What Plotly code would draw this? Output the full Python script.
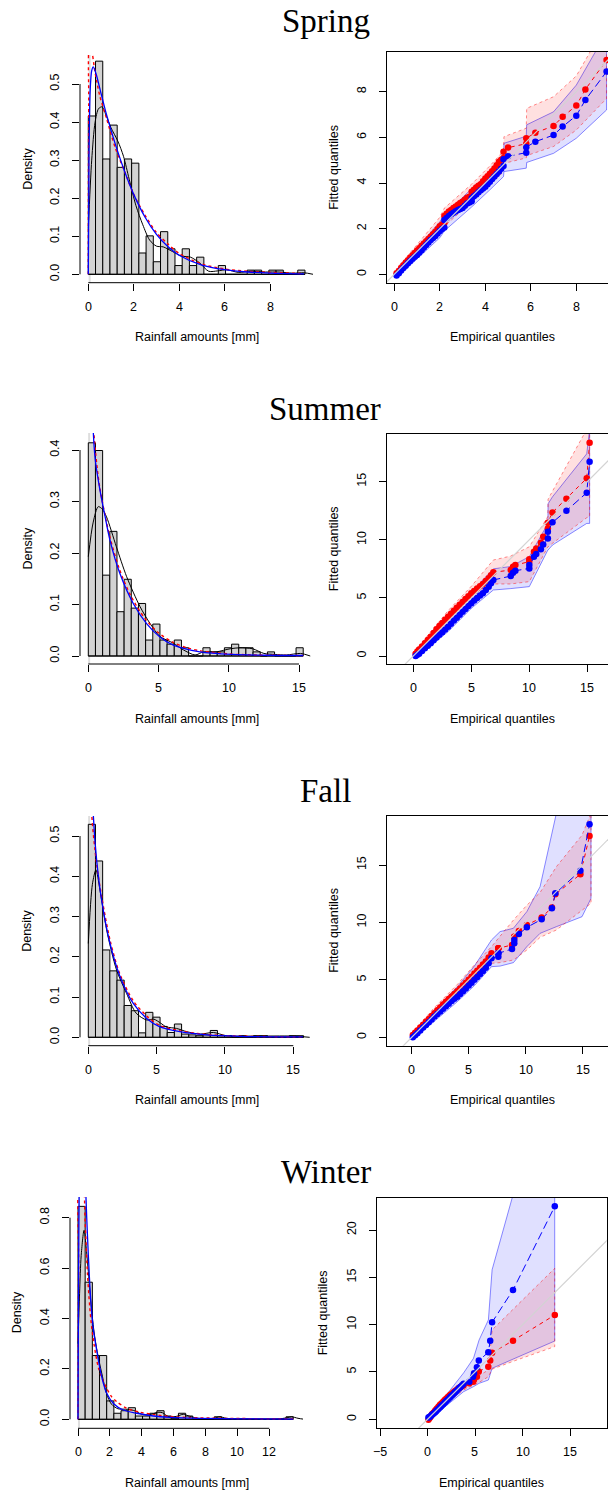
import plotly.graph_objects as go

W, H = 608, 1492

# ---------------- Histogram data (density per bin, bins start at 0) ----------------
spring_bin_width = 0.318
spring_density = [0.416, 0.560, 0.303, 0.392, 0.281, 0.303, 0.292, 0.056, 0.101, 0.033,
                  0.112, 0.067, 0.023, 0.067, 0.023, 0.045, 0.0, 0.0, 0.023, 0.0,
                  0.0, 0.0, 0.011, 0.011, 0.0, 0.011, 0.011, 0.0, 0.0, 0.011]
summer_bin_width = 0.51
summer_density = [0.414, 0.399, 0.157, 0.242, 0.086, 0.149, 0.093, 0.102, 0.031, 0.062,
                  0.031, 0.023, 0.031, 0.016, 0.0, 0.0, 0.016, 0.008, 0.008, 0.016,
                  0.023, 0.016, 0.016, 0.008, 0.0, 0.008, 0.0, 0.0, 0.0, 0.016]
fall_bin_width = 0.525
fall_density = [0.529, 0.438, 0.217, 0.165, 0.142, 0.079, 0.066, 0.011, 0.062, 0.050,
                0.027, 0.012, 0.033, 0.008, 0.006, 0.004, 0.006, 0.017, 0.004, 0.004,
                0.0, 0.004, 0.0, 0.004, 0.004, 0.0, 0.0, 0.0, 0.004, 0.004]
winter_bin_width = 0.45
winter_density = [0.845, 0.544, 0.253, 0.253, 0.073, 0.024, 0.034, 0.046, 0.013, 0.013,
                  0.024, 0.034, 0.013, 0.004, 0.024, 0.013, 0.0, 0.0, 0.0, 0.010,
                  0.0, 0.0, 0.0, 0.0, 0.0, 0.0, 0.0, 0.0, 0.0, 0.010]

# ---------------- Density curves ----------------
spring_kde_x = [0, 0.15, 0.3, 0.45, 0.6, 0.8, 1.0, 1.3, 1.55, 1.8, 2.1, 2.4, 2.7, 3.0, 3.3,
                3.7, 4.1, 4.5, 4.9, 5.3, 5.7, 6.1, 6.6, 7.2, 7.8, 8.4, 9.0, 9.5, 9.9]
spring_kde_y = [0.12, 0.3, 0.4, 0.435, 0.44, 0.415, 0.385, 0.35, 0.31, 0.25, 0.18, 0.13, 0.09,
                0.074, 0.072, 0.06, 0.048, 0.045, 0.03, 0.008, 0.009, 0.012, 0.005, 0.008,
                0.006, 0.006, 0.003, 0.004, 0.0]
spring_blue_x = [0, 0.03, 0.08, 0.15, 0.22, 0.35, 0.5, 0.8, 1.2, 1.6, 2.0, 2.5, 3.0, 3.5, 4.0,
                 5.0, 6.0, 7.0, 8.0, 9.5]
spring_blue_y = [0, 0.3, 0.48, 0.535, 0.545, 0.525, 0.49, 0.42, 0.34, 0.27, 0.21, 0.15, 0.105,
                 0.073, 0.05, 0.024, 0.012, 0.006, 0.003, 0.001]
spring_red_x = [0, 0.02, 0.05, 0.1, 0.3, 0.5, 0.8, 1.2, 1.6, 2.0, 2.5, 3.0, 3.5, 4.0, 5.0, 6.0,
                7.0, 8.0, 9.5]
spring_red_y = [0, 0.45, 0.6, 0.6, 0.53, 0.47, 0.41, 0.33, 0.27, 0.21, 0.155, 0.11, 0.08, 0.055,
                0.027, 0.014, 0.008, 0.005, 0.002]

summer_kde_x = [0, 0.35, 0.71, 1.0, 1.3, 2.0, 2.73, 3.68, 4.4, 5.1, 6.05, 6.76, 7.6, 8.2, 9.1,
                10.1, 10.8, 11.7, 12.5, 13.3, 14.1, 15.1, 15.8]
summer_kde_y = [0.193, 0.26, 0.29, 0.285, 0.27, 0.212, 0.154, 0.096, 0.063, 0.038, 0.025, 0.012,
                0.002, 0.008, 0.008, 0.014, 0.016, 0.014, 0.005, 0.003, 0.002, 0.005, 0.0]
summer_blue_x = [0.15, 0.25, 0.36, 0.5, 0.83, 1.2, 1.54, 2.25, 3.2, 4.15, 5.1, 6.05, 7.95, 10.3,
                 12.5, 15.3]
summer_blue_y = [0.7, 0.53, 0.432, 0.38, 0.322, 0.27, 0.225, 0.16, 0.102, 0.063, 0.037, 0.021,
                 0.008, 0.003, 0.0015, 0.001]
summer_red_x = [0.15, 0.24, 0.3, 0.5, 0.8, 1.5, 2.2, 3.0, 4.0, 5.0, 6.0, 7.0, 8.0, 10, 12, 15.3]
summer_red_y = [0.65, 0.5, 0.47, 0.4, 0.33, 0.235, 0.17, 0.118, 0.074, 0.045, 0.027, 0.016, 0.01,
                0.004, 0.002, 0.001]

fall_kde_x = [0, 0.3, 0.56, 0.85, 1.34, 2.07, 2.8, 3.5, 4.27, 4.8, 5.3, 5.7, 6.46, 7.2, 8.2,
              9.15, 10.1, 12.1, 15, 16.2]
fall_kde_y = [0.233, 0.38, 0.416, 0.366, 0.267, 0.167, 0.109, 0.06, 0.043, 0.045, 0.035, 0.026,
              0.022, 0.014, 0.008, 0.012, 0.004, 0.003, 0.003, 0.0]
fall_blue_x = [0.2, 0.3, 0.37, 0.61, 0.98, 1.59, 2.32, 3.29, 4.27, 5.24, 6.7, 8.66, 11.1, 15.7]
fall_blue_y = [0.9, 0.65, 0.55, 0.44, 0.34, 0.233, 0.151, 0.084, 0.047, 0.026, 0.014, 0.006,
               0.0025, 0.001]
fall_red_x = [0.15, 0.24, 0.61, 1.0, 1.6, 2.3, 3.3, 4.3, 5.2, 6.7, 8.7, 11, 15.7]
fall_red_y = [0.8, 0.56, 0.43, 0.345, 0.24, 0.158, 0.09, 0.052, 0.03, 0.016, 0.007, 0.003, 0.001]

winter_kde_x = [0, 0.1, 0.2, 0.38, 0.6, 0.8, 1.0, 1.2, 1.5, 1.8, 2.1, 2.5, 3.0, 3.5, 4.0, 4.5,
                5.0, 5.3, 5.7, 6.2, 6.6, 7.0, 7.5, 8.5, 8.9, 9.3, 10, 12.5, 13.1, 13.4, 13.8, 14.2]
winter_kde_y = [0.3, 0.5, 0.65, 0.75, 0.62, 0.47, 0.35, 0.27, 0.18, 0.1, 0.06, 0.042, 0.04,
                0.035, 0.02, 0.018, 0.028, 0.026, 0.01, 0.012, 0.02, 0.012, 0.004, 0.004, 0.01,
                0.004, 0.002, 0.001, 0.006, 0.01, 0.004, 0.0]
winter_blue_x = [0, 0.03, 0.08, 0.2, 0.35, 0.45, 0.5, 0.6, 0.71, 0.85, 1.0, 1.17, 1.38, 1.59,
                 1.8, 2.22, 2.84, 3.68, 4.72, 5.77, 7.65, 10, 13.5]
winter_blue_y = [0, 0.5, 0.95, 1.3, 1.3, 1.05, 0.88, 0.72, 0.57, 0.43, 0.34, 0.275, 0.2, 0.143,
                 0.103, 0.063, 0.037, 0.024, 0.013, 0.008, 0.004, 0.002, 0.001]
winter_red_x = [0, 0.04, 0.1, 0.25, 0.45, 0.6, 0.8, 1.0, 1.3, 1.6, 1.8, 2.1, 2.43, 3.05, 3.89,
                4.72, 5.77, 7, 9, 13.5]
winter_red_y = [0, 0.6, 1.0, 1.0, 0.78, 0.57, 0.4, 0.3, 0.2, 0.15, 0.123, 0.09, 0.07, 0.044,
                0.028, 0.019, 0.011, 0.007, 0.004, 0.0015]

# ---------------- QQ data ----------------
spring_emp = [0.1, 0.2, 0.3, 0.4, 0.5, 0.6, 0.7, 0.8, 0.9, 1.0, 1.1, 1.2, 1.3, 1.4, 1.5, 1.6,
              1.7, 1.8, 1.9, 2.0, 2.1, 2.2, 2.2, 2.3, 2.4, 2.5, 2.6, 2.7, 2.8, 2.9, 3.0, 3.1,
              3.2, 3.3, 3.4, 3.4, 3.5, 3.6, 3.7, 3.8, 3.9, 4.0, 4.1, 4.2, 4.3, 4.4, 4.5, 4.6,
              4.7, 4.8, 4.8, 5.0, 5.8, 5.8, 6.2, 7.0, 7.4, 8.0, 8.4, 9.33]
spring_fit_red = [0.05, 0.15, 0.28, 0.4, 0.51, 0.62, 0.72, 0.83, 0.93, 1.04, 1.14, 1.25, 1.35,
                  1.45, 1.55, 1.65, 1.75, 1.85, 1.97, 2.1, 2.18, 2.25, 2.55, 2.65, 2.75, 2.82,
                  2.9, 2.97, 3.05, 3.12, 3.18, 3.27, 3.35, 3.4, 3.45, 3.62, 3.7, 3.8, 3.88, 3.95,
                  4.08, 4.2, 4.3, 4.4, 4.52, 4.64, 4.78, 4.93, 5.02, 5.1, 5.37, 5.55, 5.72, 5.96,
                  6.2, 6.5, 6.9, 7.39, 8.1, 9.39]
spring_fit_blue = [-0.05, 0.05, 0.17, 0.28, 0.38, 0.48, 0.58, 0.68, 0.77, 0.85, 0.95, 1.05, 1.17,
                   1.28, 1.39, 1.5, 1.59, 1.68, 1.79, 1.9, 1.98, 2.05, 2.38, 2.47, 2.55, 2.63,
                   2.7, 2.76, 2.82, 2.86, 2.9, 3.0, 3.1, 3.15, 3.2, 3.33, 3.42, 3.5, 3.6, 3.68,
                   3.76, 3.84, 3.95, 4.05, 4.17, 4.28, 4.39, 4.5, 4.62, 4.75, 5.04, 5.17, 5.33,
                   5.57, 5.81, 6.1, 6.47, 6.95, 7.64, 8.88]
spring_band_x = [0.1, 1.0, 2.0, 2.2, 3.4, 4.2, 4.8, 4.82, 5.8, 5.82, 7.0, 8.0, 9.33]
spring_blue_lo = [-0.15, 0.7, 1.6, 1.9, 2.95, 3.7, 4.28, 4.5, 4.65, 4.9, 5.3, 5.96, 7.2]
spring_blue_hi = [0.15, 1.15, 2.3, 2.6, 3.75, 4.45, 5.0, 5.74, 6.05, 6.55, 7.12, 8.29, 10.6]
spring_red_lo = [-0.05, 0.85, 1.85, 2.1, 3.2, 3.9, 4.5, 4.86, 5.1, 5.2, 5.6, 6.32, 7.7]
spring_red_hi = [0.25, 1.3, 2.5, 2.9, 3.95, 4.75, 5.4, 6.03, 6.4, 7.27, 7.78, 8.69, 11.0]

summer_emp = [0.2, 0.35, 0.5, 0.75, 1.0, 1.25, 1.5, 1.75, 2.0, 2.25, 2.5, 2.75, 3.0, 3.25, 3.5,
              3.75, 4.0, 4.25, 4.5, 4.75, 5.0, 5.25, 5.5, 5.75, 6.0, 6.25, 6.5, 6.7, 6.9, 8.4,
              8.6, 8.8, 10.0, 10.0, 10.4, 10.6, 11.0, 11.2, 11.6, 11.6, 12.0, 13.2, 14.95, 15.2]
summer_fit_red = [0.2, 0.38, 0.55, 0.82, 1.09, 1.37, 1.65, 1.97, 2.3, 2.58, 2.85, 3.12, 3.38,
                  3.64, 3.9, 4.15, 4.4, 4.65, 4.9, 5.15, 5.39, 5.6, 5.8, 6.0, 6.19, 6.45, 6.7,
                  6.95, 7.2, 7.4, 7.69, 7.83, 8.12, 8.32, 8.98, 9.26, 9.75, 10.27, 10.98, 11.47,
                  12.36, 13.54, 15.29, 18.35]
summer_fit_blue = [0.0, 0.1, 0.2, 0.43, 0.66, 0.88, 1.1, 1.35, 1.6, 1.83, 2.05, 2.28, 2.52,
                   2.78, 3.05, 3.3, 3.55, 3.8, 4.05, 4.3, 4.53, 4.77, 5.0, 5.2, 5.39, 5.67, 5.95,
                   6.25, 6.54, 6.88, 7.17, 7.34, 7.54, 7.83, 8.55, 8.78, 9.18, 9.6, 10.12, 10.7,
                   11.5, 12.5, 14.05, 16.72]
summer_band_x = [0.2, 3.0, 5.0, 6.9, 8.4, 10.0, 11.6, 11.62, 12.0, 14.95, 15.2]
summer_blue_lo = [-0.2, 2.1, 4.1, 5.68, 5.8, 5.97, 9.12, 9.12, 9.55, 11.41, 11.41]
summer_blue_hi = [0.35, 3.3, 5.5, 7.5, 7.7, 8.55, 11.4, 13.1, 13.7, 17.4, 19.5]
summer_red_lo = [0.0, 2.5, 4.4, 6.2, 6.2, 6.4, 9.4, 9.4, 9.7, 11.9, 12.0]
summer_red_hi = [0.5, 3.9, 6.0, 8.26, 8.6, 9.4, 12.0, 13.5, 14.28, 19.5, 19.5]

fall_emp = [0.1, 0.3, 0.5, 0.75, 1.0, 1.25, 1.5, 1.75, 2.0, 2.25, 2.5, 2.75, 3.0, 3.25, 3.5,
            3.75, 4.0, 4.25, 4.5, 4.75, 5.0, 5.25, 5.5, 5.75, 6.0, 6.25, 6.5, 6.75, 7.0, 7.6,
            7.6, 7.6, 8.8, 9.0, 9.0, 9.4, 10.1, 11.4, 12.3, 12.6, 14.8, 15.6]
fall_fit_red = [0.2, 0.4, 0.6, 0.85, 1.1, 1.35, 1.6, 1.85, 2.1, 2.35, 2.6, 2.85, 3.1, 3.33,
                3.55, 3.78, 4.0, 4.25, 4.5, 4.75, 5.0, 5.28, 5.55, 5.8, 6.05, 6.33, 6.6, 6.95,
                7.31, 7.75, 7.75, 7.75, 8.04, 8.76, 8.76, 9.25, 9.78, 10.42, 11.31, 12.45, 14.19,
                17.52]
fall_fit_blue = [0.0, 0.17, 0.35, 0.6, 0.85, 1.08, 1.3, 1.55, 1.8, 2.03, 2.25, 2.48, 2.7, 2.93,
                 3.15, 3.35, 3.54, 3.77, 4.0, 4.25, 4.5, 4.75, 5.0, 5.25, 5.5, 5.78, 6.05, 6.45,
                 6.88, 7.02, 7.31, 7.31, 7.69, 8.18, 8.47, 8.99, 9.57, 10.27, 11.23, 12.53, 14.5,
                 18.54]
fall_band_x = [0.1, 2.0, 4.0, 5.5, 7.0, 7.75, 8.92, 10.1, 11.26, 12.69, 14.94, 15.73]
fall_blue_lo = [-0.2, 1.4, 3.1, 4.5, 6.15, 6.2, 6.5, 7.89, 9.05, 9.63, 10.5, 12.1]
fall_blue_hi = [0.35, 2.4, 4.4, 6.2, 8.47, 9.2, 9.49, 10.94, 13.11, 19.5, 19.5, 19.5]
fall_red_lo = [0.0, 1.7, 3.5, 5.0, 6.44, 6.5, 6.73, 7.6, 8.7, 9.34, 11.08, 11.66]
fall_red_hi = [0.45, 2.6, 4.6, 6.3, 7.89, 8.8, 10.2, 11.5, 12.6, 14.85, 17.6, 19.5]

winter_emp = [0.1, 0.2, 0.3, 0.4, 0.5, 0.65, 0.8, 0.9, 1.0, 1.15, 1.3, 1.4, 1.5, 1.65, 1.8, 1.9,
              2.0, 2.15, 2.3, 2.4, 2.5, 2.65, 2.8, 2.9, 3.0, 3.15, 3.3, 3.4, 3.5, 3.65, 3.8,
              4.4, 4.8, 4.9, 5.2, 5.4, 6.4, 6.6, 6.8, 9.0, 13.4]
winter_fit_red = [-0.05, 0.1, 0.25, 0.4, 0.55, 0.72, 0.9, 1.02, 1.15, 1.33, 1.5, 1.6, 1.7, 1.85,
                  2.0, 2.1, 2.2, 2.35, 2.5, 2.57, 2.65, 2.78, 2.9, 2.97, 3.05, 3.18, 3.3, 3.37,
                  3.45, 3.52, 3.6, 3.8, 3.98, 4.2, 4.5, 5.04, 5.56, 6.2, 7.04, 8.31, 11.02]
winter_fit_blue = [0.2, 0.25, 0.3, 0.4, 0.5, 0.62, 0.75, 0.85, 0.95, 1.1, 1.25, 1.35, 1.45, 1.6,
                   1.75, 1.85, 1.95, 2.1, 2.25, 2.35, 2.45, 2.6, 2.75, 2.85, 2.95, 3.1, 3.25,
                   3.35, 3.45, 3.6, 3.75, 3.98, 4.5, 4.86, 5.49, 6.2, 7.08, 8.31, 10.25, 13.66,
                   22.5]
winter_band_x = [0.1, 2.0, 3.8, 4.84, 5.43, 6.41, 6.8, 9.22, 13.39]
winter_blue_lo = [-0.1, 1.4, 2.92, 3.45, 3.8, 4.15, 5.39, 6.45, 8.27]
winter_blue_hi = [0.5, 2.6, 4.9, 6.44, 8.38, 10.5, 15.8, 24.5, 24.5]
winter_red_lo = [-0.3, 1.7, 3.1, 3.6, 3.9, 4.5, 5.3, 6.2, 7.68]
winter_red_hi = [0.4, 2.6, 3.9, 4.3, 4.6, 5.2, 9.44, 11.8, 15.95]

# ---------------- tick labels ----------------
spring_hist_xt = [0, 2, 4, 6, 8]
spring_hist_yt = [0.0, 0.1, 0.2, 0.3, 0.4, 0.5]
spring_qq_xt = [0, 2, 4, 6, 8]
spring_qq_yt = [0, 2, 4, 6, 8]
summer_hist_xt = [0, 5, 10, 15]
summer_hist_yt = [0.0, 0.1, 0.2, 0.3, 0.4]
summer_qq_xt = [0, 5, 10, 15]
summer_qq_yt = [0, 5, 10, 15]
fall_hist_xt = [0, 5, 10, 15]
fall_hist_yt = [0.0, 0.1, 0.2, 0.3, 0.4, 0.5]
fall_qq_xt = [0, 5, 10, 15]
fall_qq_yt = [0, 5, 10, 15]
winter_hist_xt = [0, 2, 4, 6, 8, 10, 12]
winter_hist_yt = [0.0, 0.2, 0.4, 0.6, 0.8]
winter_qq_xt = [-5, 0, 5, 10, 15]
winter_qq_yt = [0, 5, 10, 15, 20]

# ---------------- layout geometry (pixels) ----------------
panels = [
    dict(title="Spring", tpos=(326, 21.5),
         hist=dict(w=spring_bin_width, dens=spring_density,
                   kde=(spring_kde_x, spring_kde_y), blue=(spring_blue_x, spring_blue_y),
                   red=(spring_red_x, spring_red_y), xt=spring_hist_xt, yt=spring_hist_yt,
                   px=(80, 313), py=(55, 282.7), xm=(0, 88.3, 8, 270), ym=(0, 274.3, 0.5, 84),
                   ylab=28, xlab=(196.5, 337)),
         qq=dict(emp=spring_emp, red=spring_fit_red, blue=spring_fit_blue, bx=spring_band_x,
                 blo=spring_blue_lo, bhi=spring_blue_hi, rlo=spring_red_lo, rhi=spring_red_hi,
                 xt=spring_qq_xt, yt=spring_qq_yt,
                 px=(387, 608), py=(52, 283), xm=(0, 394.3, 8, 576.3), ym=(0, 274.3, 8, 91.7),
                 ylab=333.3, xlab=(502.5, 337), mirror_y=False)),
    dict(title="Summer", tpos=(325, 408.5),
         hist=dict(w=summer_bin_width, dens=summer_density,
                   kde=(summer_kde_x, summer_kde_y), blue=(summer_blue_x, summer_blue_y),
                   red=(summer_red_x, summer_red_y), xt=summer_hist_xt, yt=summer_hist_yt,
                   px=(80, 313), py=(433, 664), xm=(0, 88.3, 15, 299), ym=(0, 656, 0.4, 450),
                   ylab=27, xlab=(196.5, 719)),
         qq=dict(emp=summer_emp, red=summer_fit_red, blue=summer_fit_blue, bx=summer_band_x,
                 blo=summer_blue_lo, bhi=summer_blue_hi, rlo=summer_red_lo, rhi=summer_red_hi,
                 xt=summer_qq_xt, yt=summer_qq_yt,
                 px=(387.3, 608), py=(434, 664.3), xm=(0, 413.3, 15, 587.3), ym=(0, 656, 15, 481.7),
                 ylab=334, xlab=(502.5, 719), mirror_y=False)),
    dict(title="Fall", tpos=(325, 791),
         hist=dict(w=fall_bin_width, dens=fall_density,
                   kde=(fall_kde_x, fall_kde_y), blue=(fall_blue_x, fall_blue_y),
                   red=(fall_red_x, fall_red_y), xt=fall_hist_xt, yt=fall_hist_yt,
                   px=(80, 313), py=(816, 1045.7), xm=(0, 88.3, 15, 293.3), ym=(0, 1037.3, 0.5, 836),
                   ylab=27, xlab=(196.5, 1100)),
         qq=dict(emp=fall_emp, red=fall_fit_red, blue=fall_fit_blue, bx=fall_band_x,
                 blo=fall_blue_lo, bhi=fall_blue_hi, rlo=fall_red_lo, rhi=fall_red_hi,
                 xt=fall_qq_xt, yt=fall_qq_yt,
                 px=(387.3, 608), py=(816, 1045.7), xm=(0, 411.7, 15, 582.7), ym=(0, 1037.3, 15, 865),
                 ylab=334, xlab=(502.5, 1100), mirror_y=False)),
    dict(title="Winter", tpos=(326, 1171.5),
         hist=dict(w=winter_bin_width, dens=winter_density,
                   kde=(winter_kde_x, winter_kde_y), blue=(winter_blue_x, winter_blue_y),
                   red=(winter_red_x, winter_red_y), xt=winter_hist_xt, yt=winter_hist_yt,
                   px=(70, 303), py=(1197, 1428.3), xm=(0, 78, 12, 269.3), ym=(0, 1419.3, 0.8, 1217.7),
                   ylab=16.7, xlab=(186.5, 1483)),
         qq=dict(emp=winter_emp, red=winter_fit_red, blue=winter_fit_blue, bx=winter_band_x,
                 blo=winter_blue_lo, bhi=winter_blue_hi, rlo=winter_red_lo, rhi=winter_red_hi,
                 xt=winter_qq_xt, yt=winter_qq_yt,
                 px=(376.7, 606.7), py=(1197.7, 1428.3), xm=(-5, 380, 15, 570), ym=(0, 1419.3, 20, 1230),
                 ylab=323.3, xlab=(491.7, 1483), mirror_y=True)),
]

SANS = "Liberation Sans, Arial, sans-serif"
SERIF = "Liberation Serif, Times New Roman, serif"
FS = 12.5
XLAB_OFFSET = 24  # px from plot-region bottom to centre of x tick labels


def axis_range(p0, p1, va, pa, vb, pb):
    s = (pb - pa) / (vb - va)
    a = va + (p0 - pa) / s
    b = va + (p1 - pa) / s
    return [min(a, b), max(a, b)]


def fmt(v, decimals):
    return f"{v:.{decimals}f}"


def text_ann(text, px, py, angle=0, family=SANS, size=FS):
    return dict(text=text, x=px / W, y=1 - py / H, xref="paper", yref="paper",
                showarrow=False, textangle=angle, xanchor="center", yanchor="middle",
                font=dict(family=family, size=size, color="black"))


fig = go.Figure()
layout = dict(width=W, height=H, margin=dict(l=0, r=0, t=0, b=0), autosize=False,
              paper_bgcolor="white", plot_bgcolor="white", showlegend=False,
              annotations=[], shapes=[])

ax_i = 0


def add_axes(spec, decimals_y, is_hist):
    global ax_i
    ax_i += 1
    n = "" if ax_i == 1 else str(ax_i)
    xr = axis_range(spec["px"][0], spec["px"][1], *spec["xm"])
    yr = axis_range(spec["py"][0], spec["py"][1], *spec["ym"])
    common = dict(showgrid=False, zeroline=False, ticks="outside", ticklen=7, tickwidth=1,
                  tickcolor="black", tickfont=dict(family=SANS, size=FS, color="black"),
                  fixedrange=True)
    xa = dict(common, domain=[spec["px"][0] / W, spec["px"][1] / W], range=xr,
              tickvals=spec["xt"], showticklabels=False, anchor="y" + n)
    ya = dict(common, domain=[1 - spec["py"][1] / H, 1 - spec["py"][0] / H], range=yr,
              tickvals=spec["yt"], ticktext=[fmt(v, decimals_y) for v in spec["yt"]],
              tickangle=-90, anchor="x" + n, ticklabelstandoff=8)
    # x tick labels as annotations (R-style distance from the axis)
    for v in spec["xt"]:
        layout["annotations"].append(dict(
            text=str(v).replace("-", "\u2212"), x=v, xref="x" + n,
            y=1 - (spec["py"][1] + XLAB_OFFSET) / H, yref="paper", showarrow=False,
            xanchor="center", yanchor="middle",
            font=dict(family=SANS, size=FS, color="black")))
    if is_hist:
        xa["showline"] = False
        ya["showline"] = False
        layout["shapes"].append(dict(type="line", xref="x" + n, yref="y" + n + " domain",
                                     x0=spec["xt"][0], x1=spec["xt"][-1], y0=0, y1=0,
                                     line=dict(color="black", width=1)))
        layout["shapes"].append(dict(type="line", xref="x" + n + " domain", yref="y" + n,
                                     x0=0, x1=0, y0=spec["yt"][0], y1=spec["yt"][-1],
                                     line=dict(color="black", width=1)))
    else:
        xa.update(showline=True, linecolor="black", linewidth=1, mirror=True)
        ya.update(showline=True, linecolor="black", linewidth=1, mirror=spec["mirror_y"])
    layout["xaxis" + n] = xa
    layout["yaxis" + n] = ya
    return "x" + n, "y" + n


for p in panels:
    # ---- histogram panel ----
    h = p["hist"]
    xa, ya = add_axes(h, 1, True)
    nb = len(h["dens"])
    centers = [h["w"] * (i + 0.5) for i in range(nb)]
    layout["shapes"].append(dict(type="line", xref=xa, yref=ya + " domain", x0=0.06, x1=0.06,
                                 y0=0, y1=1, layer="below",
                                 line=dict(color="#dedede", width=2)))
    fig.add_trace(go.Bar(x=centers, y=h["dens"], width=[h["w"]] * nb, xaxis=xa, yaxis=ya,
                         marker=dict(color="#d3d3d3", line=dict(color="black", width=1))))
    fig.add_trace(go.Scatter(x=[0, h["w"] * nb], y=[0, 0], mode="lines", xaxis=xa, yaxis=ya,
                             line=dict(color="black", width=1)))
    fig.add_trace(go.Scatter(x=h["kde"][0], y=h["kde"][1], mode="lines", xaxis=xa, yaxis=ya,
                             line=dict(color="black", width=1, shape="spline", smoothing=0.8)))
    fig.add_trace(go.Scatter(x=h["red"][0], y=h["red"][1], mode="lines", xaxis=xa, yaxis=ya,
                             line=dict(color="red", width=1.4, dash="3px,3px", shape="spline",
                                       smoothing=0.8)))
    fig.add_trace(go.Scatter(x=h["blue"][0], y=h["blue"][1], mode="lines", xaxis=xa, yaxis=ya,
                             line=dict(color="blue", width=1.3, shape="spline", smoothing=0.8)))
    hy = (h["py"][0] + h["py"][1]) / 2
    layout["annotations"].append(text_ann("Density", h["ylab"], hy, angle=-90))
    layout["annotations"].append(text_ann("Rainfall amounts [mm]", *h["xlab"]))

    # ---- QQ panel ----
    q = p["qq"]
    xa, ya = add_axes(q, 0, False)
    fig.add_trace(go.Scatter(x=q["bx"] + q["bx"][::-1], y=q["blo"] + q["bhi"][::-1],
                             mode="lines", fill="toself", fillcolor="rgba(0,0,255,0.12)",
                             line=dict(color="rgba(0,0,255,0.45)", width=1), xaxis=xa, yaxis=ya))
    fig.add_trace(go.Scatter(x=q["bx"] + q["bx"][::-1], y=q["rlo"] + q["rhi"][::-1],
                             mode="lines", fill="toself", fillcolor="rgba(255,0,0,0.12)",
                             line=dict(color="rgba(255,0,0,0.45)", width=1, dash="3px,3px"),
                             xaxis=xa, yaxis=ya))
    fig.add_trace(go.Scatter(x=q["emp"], y=q["red"], mode="lines+markers", xaxis=xa, yaxis=ya,
                             line=dict(color="red", width=1, dash="4px,4px"),
                             marker=dict(color="red", size=6.5)))
    fig.add_trace(go.Scatter(x=q["emp"], y=q["blue"], mode="lines+markers", xaxis=xa, yaxis=ya,
                             line=dict(color="blue", width=1, dash="8px,4px"),
                             marker=dict(color="blue", size=6.5)))
    fig.add_trace(go.Scatter(x=[-10, 40], y=[-10, 40], mode="lines", xaxis=xa, yaxis=ya,
                             line=dict(color="#d3d3d3", width=1.2)))
    qy = (q["py"][0] + q["py"][1]) / 2
    layout["annotations"].append(text_ann("Fitted quantiles", q["ylab"], qy, angle=-90))
    layout["annotations"].append(text_ann("Empirical quantiles", *q["xlab"]))

    # ---- season title ----
    layout["annotations"].append(text_ann(p["title"], p["tpos"][0], p["tpos"][1],
                                          family=SERIF, size=33))

fig.update_layout(**layout)
fig.write_html("out.html")
